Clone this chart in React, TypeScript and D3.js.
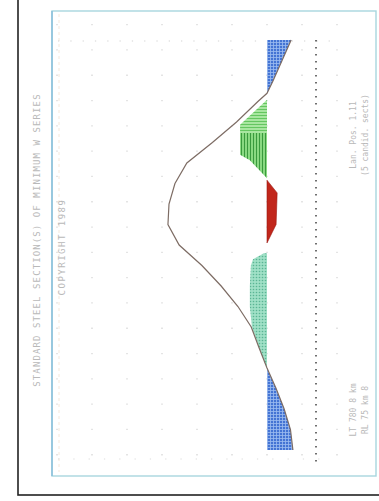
// Bending moment diagram with residual bands, scanned plot (rotated)
import React from 'react';
import * as d3 from 'd3';

// stations along the beam (m) and moment values (kNm / 10 units per grid)
const stations = [0, 0.5, 1.0, 1.3, 1.5, 2.0, 2.5, 3.0, 3.5, 4.0, 4.5, 5.0, 5.5, 6.0, 6.5, 7.0, 7.5, 8.0, 8.5, 9.0, 9.5, 10];
const moment = [-6.9, -4.3, -1.7, 0, 2.6, 8.7, 15.6, 22.9, 26.3, 28.0, 28.3, 25.1, 18.6, 13.1, 8.3, 4.5, 2.3, 0, -2.6, -4.9, -6.7, -7.4];

// residual bands
const greenLightPos = [1.46, 2.07, 2.27];
const greenLightVal = [0, 7.7, 7.7];
const greenDarkPos = [2.27, 2.8, 2.93, 3.37];
const greenDarkVal = [7.7, 7.7, 4.9, 0];
const redPos = [3.42, 3.73, 4.5, 4.95];
const redVal = [0, -2.9, -2.6, 0];
const tealPos = [5.2, 5.35, 5.5, 6.0, 6.5, 7.0, 7.5, 8.0];
const tealVal = [0.9, 4.0, 4.6, 4.9, 4.9, 4.3, 2.3, 0];

const limitValue = -14;
const gridValues = [-20, -10, 0, 10, 20, 30, 40, 50, 60];

const title = 'STANDARD STEEL SECTION(S) OF MINIMUM W SERIES';
const subtitle = 'COPYRIGHT 1989';
const infoTop = ['Lan. Pos.   1.11', '(5 candid. sects)'];
const infoBottom = ['LT  780 8 km', 'RL  75 km  8'];

const W = 379;
const H = 501;

type Pt = { p: number; v: number };
const zip = (ps: number[], vs: number[]): Pt[] => ps.map((p, i) => ({ p, v: vs[i] }));

export default function App() {
  const y = d3.scaleLinear().domain([0, 10]).range([40, 450]);
  const x = d3.scaleLinear().domain([-20, 30]).range([337, 162]);

  const area = d3.area<Pt>()
    .y(d => y(d.p))
    .x0(x(0))
    .x1(d => x(d.v));

  const line = d3.line<Pt>()
    .x(d => x(d.v))
    .y(d => y(d.p));

  const mData = zip(stations, moment);
  const negData = mData.map(d => ({ p: d.p, v: Math.min(d.v, 0) }));

  const rot = (cx: number, cy: number) => `translate(${cx},${cy}) rotate(-90)`;
  const txt = { fontFamily: '"DejaVu Sans Mono", monospace', fill: '#b9b9b9' };

  return (
    <svg width={W} height={H} style={{ position: 'absolute', left: 0, top: 0, background: '#fff' }}>
      <defs>
        <pattern id="blueGrid" width="3" height="3" patternUnits="userSpaceOnUse">
          <rect width="3" height="3" fill="#4474d4" />
          <path d="M0,0.5H3M0.5,0V3" stroke="#9dbcf0" strokeWidth="0.8" />
        </pattern>
        <pattern id="greenLight" width="3" height="3" patternUnits="userSpaceOnUse">
          <rect width="3" height="3" fill="#a8e6a0" />
          <path d="M0,1.5H3" stroke="#64c660" strokeWidth="1" />
        </pattern>
        <pattern id="greenDark" width="3" height="3" patternUnits="userSpaceOnUse">
          <rect width="3" height="3" fill="#8ddc84" />
          <path d="M1.5,0V3" stroke="#3a9a3e" strokeWidth="1.1" />
        </pattern>
        <pattern id="tealDots" width="3" height="3" patternUnits="userSpaceOnUse">
          <rect width="3" height="3" fill="#9fe0c6" />
          <circle cx="1.5" cy="1.5" r="0.8" fill="#5ab594" />
        </pattern>
      </defs>

      {/* outer frame */}
      <rect x={18} y={-5} width={370} height={500} fill="none" stroke="#222" strokeWidth={1.6} />
      {/* inner plot frame */}
      <rect x={52} y={11} width={324} height={465} fill="none" stroke="#a8d6df" strokeWidth={1.4} />
      <line x1={52} x2={52} y1={11} y2={476} stroke="#86bedb" strokeWidth={1.4} />
      <line x1={59} x2={59} y1={14} y2={472} stroke="#f3e2d2" strokeWidth={0.8} strokeDasharray="3,3" />

      {/* faint grid */}
      {gridValues.map(g => (
        <line key={g} x1={x(g)} x2={x(g)} y1={24} y2={466} stroke="#d6d6d6" strokeWidth={1.3} strokeDasharray="1.3,24" />
      ))}
      <line x1={58} x2={330} y1={41} y2={41} stroke="#d4d4d4" strokeWidth={1.2} strokeDasharray="1.3,11" />
      <line x1={58} x2={330} y1={459} y2={459} stroke="#dddddd" strokeWidth={1.2} strokeDasharray="1.3,14" />

      {/* fills */}
      <path d={area(negData) as string} fill="url(#blueGrid)" />
      <path d={area(zip(greenLightPos, greenLightVal)) as string} fill="url(#greenLight)" />
      <path d={area(zip(greenDarkPos, greenDarkVal)) as string} fill="url(#greenDark)" />
      <path d={area(zip(redPos, redVal)) as string} fill="#c1261b" stroke="#9a1a12" strokeWidth={0.6} />
      <path d={area(zip(tealPos, tealVal)) as string} fill="url(#tealDots)" />

      {/* moment curve */}
      <path d={line(mData) as string} fill="none" stroke="#7d6c64" strokeWidth={1.2} />

      {/* limit line */}
      <line x1={x(limitValue)} x2={x(limitValue)} y1={40} y2={462} stroke="#333" strokeWidth={1.4} strokeDasharray="1.5,5.5" />

      {/* texts */}
      <text transform={rot(37, 240)} textAnchor="middle" dominantBaseline="middle" fontSize={9} letterSpacing={1.1} style={txt}>{title}</text>
      <text transform={rot(62, 247)} textAnchor="middle" dominantBaseline="middle" fontSize={9} letterSpacing={1.5} style={txt}>{subtitle}</text>
      {infoTop.map((t, i) => (
        <text key={t} transform={rot(353 + i * 12, 135)} textAnchor="middle" dominantBaseline="middle" fontSize={8} style={txt}>{t}</text>
      ))}
      {infoBottom.map((t, i) => (
        <text key={t} transform={rot(353 + i * 12, 410)} textAnchor="middle" dominantBaseline="middle" fontSize={8} style={txt}>{t}</text>
      ))}
    </svg>
  );
}
